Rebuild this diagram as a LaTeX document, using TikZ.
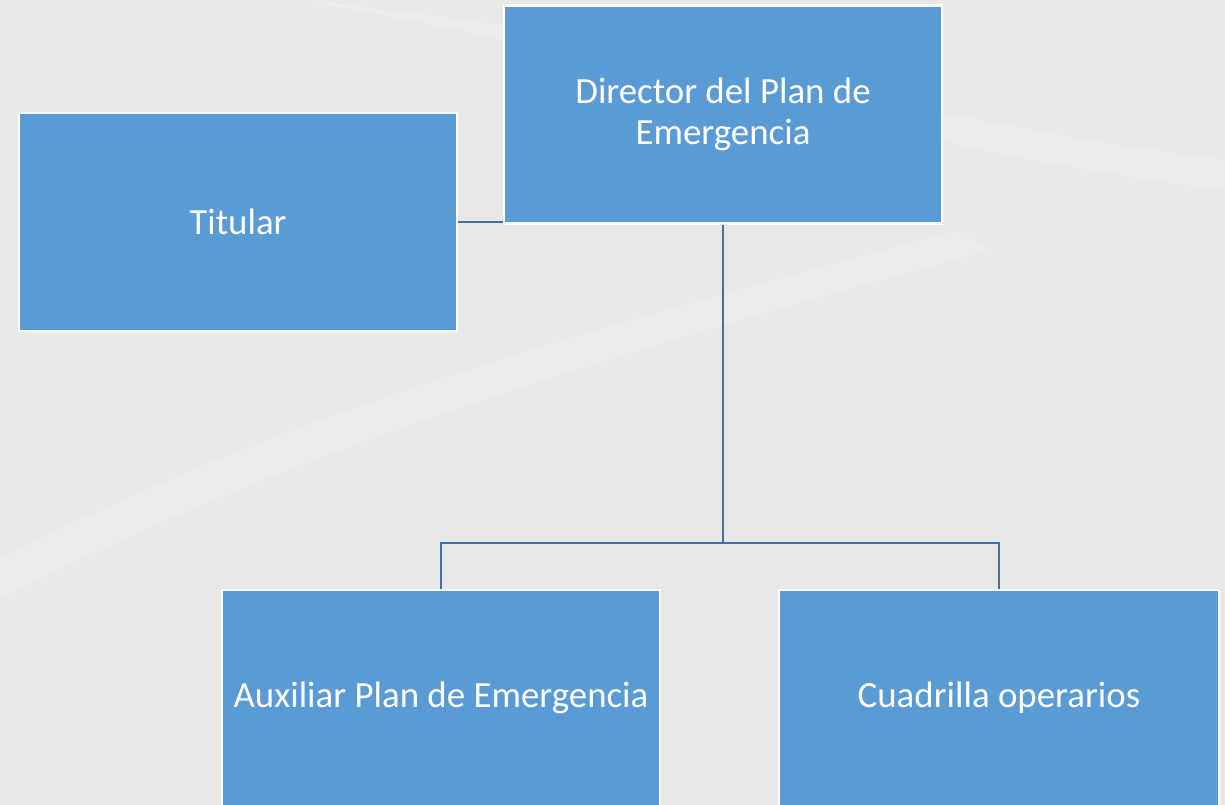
\documentclass[tikz,border=0pt]{standalone}
\usepackage{fontspec}
\setmainfont{Carlito}
\definecolor{fondo}{HTML}{E8E8E8}
\definecolor{azulcaja}{HTML}{5B9BD5}
\definecolor{azullinea}{HTML}{41719C}
\tikzset{
  caja/.style={draw=white, line width=1.2pt, fill=azulcaja, text=white, align=center,
    minimum width=8.76cm, minimum height=4.36cm, inner sep=0pt,
    font=\fontsize{21}{23}\selectfont},
  linea/.style={draw=azullinea, line width=1.2pt}
}
\begin{document}
\begin{tikzpicture}[x=0.02cm, y=-0.02cm]
  % background
  \fill[fondo] (0,0) rectangle (1225,805);
  \fill[white, opacity=0.18] (300,0) .. controls (700,40) and (900,120) .. (1225,160) -- (1225,190) .. controls (900,150) and (700,70) .. (300,0) -- cycle;
  \fill[white, opacity=0.15] (0,560) .. controls (300,400) and (700,300) .. (960,230) -- (990,250) .. controls (700,330) and (300,440) .. (0,600) -- cycle;
  \useasboundingbox (0,0) rectangle (1225,805);
  % boxes
  \node[caja] (director) at (723,114.5) {Director del Plan de\\Emergencia};
  \node[caja] (titular) at (238,222) {Titular};
  \node[caja, minimum height=4.32cm] (auxiliar) at (441,698) {Auxiliar Plan de Emergencia};
  \node[caja, minimum height=4.32cm, minimum width=8.8cm] (cuadrilla) at (999,698) {Cuadrilla operarios};
  % connectors
  \coordinate (rama) at (723,543);
  \draw[linea] (titular.east) -- (titular.east -| director.west);
  \draw[linea] (director.south) -- (rama);
  \draw[linea] (auxiliar.north) |- (rama) -| (cuadrilla.north);
\end{tikzpicture}
\end{document}
